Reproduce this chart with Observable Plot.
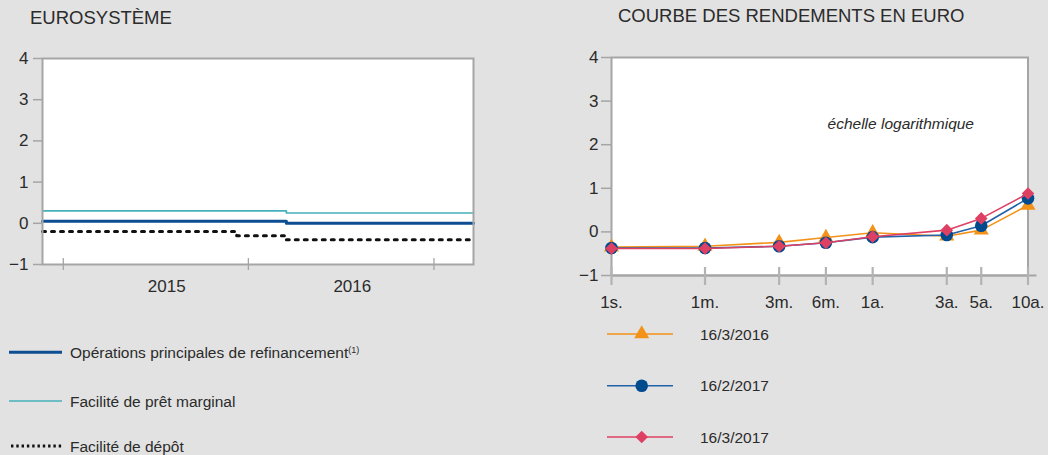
<!DOCTYPE html>
<html><head><meta charset="utf-8">
<script src="https://cdn.jsdelivr.net/npm/d3@7"></script>
<script src="https://cdn.jsdelivr.net/npm/@observablehq/plot@0.6"></script>
<style>
body{margin:0;background:#e2e2e2;font-family:"Liberation Sans",Arial,sans-serif;color:#2b2b2b;}
#wrap{position:relative;width:1048px;height:455px;overflow:hidden;background:#e2e2e2;}
.abs{position:absolute;}
svg{overflow:visible;}
</style></head><body><div id="wrap"></div>
<script>
// ---------- Left chart data (Eurosystem policy rates, %) ----------
const leftTitle = "EUROSYSTÈME";
const mroDates = ["2014-11-21","2016-03-16","2017-03-20"];
const mroRates = [0.05, 0.00, 0.00];
const mlfDates = ["2014-11-21","2016-03-16","2017-03-20"];
const mlfRates = [0.30, 0.25, 0.25];
const dfDates  = ["2014-11-21","2015-12-09","2016-03-16","2017-03-20"];
const dfRates  = [-0.20, -0.30, -0.40, -0.40];
const leftDomain = ["2014-11-21","2017-03-20"];
const yearTickDates = ["2015-01-01","2016-01-01","2017-01-01"];
const yearLabelDates = ["2015-07-24","2016-07-24"];
const yearLabels = ["2015","2016"];
const leftYTicks = [-1, 0, 1, 2, 3, 4];
const leftSeriesNames = ["Opérations principales de refinancement","Facilité de prêt marginal","Facilité de dépôt"];

// ---------- Right chart data (euro yield curve, %) ----------
const rightTitle = "COURBE DES RENDEMENTS EN EURO";
const tenorLabels = ["1s.","1m.","3m.","6m.","1a.","3a.","5a.","10a."];
const tenorYears  = [1/48, 1/12, 0.25, 0.5, 1, 3, 5, 10];
const curveNames  = ["16/3/2016","16/2/2017","16/3/2017"];
const curve20160316 = [-0.35, -0.33, -0.24, -0.13, -0.02, -0.10, 0.04, 0.61];
const curve20170216 = [-0.37, -0.37, -0.33, -0.25, -0.12, -0.07, 0.14, 0.77];
const curve20170316 = [-0.38, -0.38, -0.33, -0.25, -0.11, 0.04, 0.31, 0.88];
const rightYTicks = [-1, 0, 1, 2, 3, 4];
const annotation = "échelle logarithmique";

// ---------- styles ----------
const C = {
  mro: "#0d4e92", mlf: "#46b0bb", df: "#111111",
  orange: "#f39219", blueLine: "#2262a8", blueDot: "#004b8e", red: "#de4063",
  frame: "#a5a5a5", text: "#2b2b2b"
};
const FONT = '"Liberation Sans", Arial, sans-serif';
const wrap = document.getElementById("wrap");
const parse = d3.utcParse("%Y-%m-%d");
const intFmt = d => (d < 0 ? "\u2212" : "") + Math.abs(d);

function place(el, left, top) {
  el.classList.add("abs");
  el.style.left = left + "px";
  el.style.top = top + "px";
  wrap.appendChild(el);
}

// Titles
function addText(txt, left, top, size) {
  const d = document.createElement("div");
  d.textContent = txt;
  d.style.fontSize = size + "px";
  d.style.lineHeight = size + "px";
  d.style.whiteSpace = "nowrap";
  d.style.color = C.text;
  place(d, left, top);
}
addText(leftTitle, 30, 8.5, 18.5);
addText(rightTitle, 618, 7, 18.5);

// ---------- Left chart ----------
const mroData = mroDates.map((d, i) => ({date: parse(d), v: mroRates[i]}));
const mlfData = mlfDates.map((d, i) => ({date: parse(d), v: mlfRates[i]}));
const dfData  = dfDates.map((d, i) => ({date: parse(d), v: dfRates[i]}));
const yearTicks = yearTickDates.map(parse);
const yearLabelPos = yearLabelDates.map(parse);

const left = Plot.plot({
  width: 480, height: 260,
  marginLeft: 42, marginRight: 7, marginTop: 18, marginBottom: 36,
  x: {type: "utc", domain: leftDomain.map(parse), label: null, axis: null},
  y: {domain: [-1, 4], label: null},
  style: {background: "transparent", fontFamily: FONT, fontSize: "17px", color: C.text},
  marks: [
    Plot.frame({fill: "white", stroke: null}),
    Plot.line(mlfData, {x: "date", y: "v", curve: "step-after", stroke: C.mlf, strokeWidth: 1.7}),
    Plot.line(mroData, {x: "date", y: "v", curve: "step-after", stroke: C.mro, strokeWidth: 3}),
    Plot.line(dfData, {x: "date", y: "v", curve: "step-after", stroke: C.df, strokeWidth: 3, strokeDasharray: "3,6"}),
    Plot.frame({stroke: C.frame, strokeWidth: 2}),
    Plot.axisY({ticks: leftYTicks, tickFormat: intFmt, tickSize: 9, tickPadding: 5, stroke: C.frame, strokeWidth: 1.5, fill: C.text, label: null}),
    Plot.ruleX(yearTicks, {x: d => d, y1: () => -1, y2: () => -1, insetTop: -6, insetBottom: -6, stroke: C.frame, strokeWidth: 1.3}),
    Plot.text(yearLabelPos, {x: d => d, text: (d, i) => yearLabels[i], frameAnchor: "bottom", lineAnchor: "top", dy: 15, fill: C.text})
  ]
});
place(left, 0, 40);

// ---------- Right chart ----------
const curves = [curve20160316, curve20170216, curve20170316];
const rows = curves.map((c, s) => tenorYears.map((t, i) => ({tenor: t, v: c[i], s: curveNames[s]})));

const right = Plot.plot({
  width: 488, height: 270,
  marginLeft: 51, marginRight: 20.5, marginTop: 17, marginBottom: 35,
  x: {type: "log", domain: [tenorYears[0], tenorYears[tenorYears.length - 1]], label: null, axis: null},
  y: {domain: [-1, 4], label: null},
  style: {background: "transparent", fontFamily: FONT, fontSize: "17px", color: C.text},
  marks: [
    Plot.frame({fill: "white", stroke: null}),
    Plot.ruleY([-1], {stroke: C.frame, strokeWidth: 2, insetRight: -9}),
    Plot.frame({stroke: C.frame, strokeWidth: 2}),
    Plot.axisY({ticks: rightYTicks, tickFormat: intFmt, tickSize: 10, tickPadding: 3, stroke: C.frame, strokeWidth: 1.5, fill: C.text, label: null}),
    Plot.ruleX(tenorYears, {x: d => d, y1: () => -1, y2: () => -1, insetTop: -8, insetBottom: -10, stroke: "#b3b3b3", strokeWidth: 2.2}),
    Plot.text(tenorYears, {x: d => d, text: (d, i) => tenorLabels[i], frameAnchor: "bottom", lineAnchor: "top", dy: 20.5, fill: C.text}),
    Plot.text([annotation], {frameAnchor: "top-right", text: d => d, textAnchor: "end", dx: -54, dy: 60, fontStyle: "italic", fontSize: 15.5, fill: C.text}),
    Plot.line(rows[0], {x: "tenor", y: "v", stroke: C.orange, strokeWidth: 1.6}),
    Plot.dot(rows[0], {x: "tenor", y: "v", symbol: "triangle", r: 5.6, fill: C.orange, stroke: null}),
    Plot.line(rows[1], {x: "tenor", y: "v", stroke: C.blueLine, strokeWidth: 1.6}),
    Plot.dot(rows[1], {x: "tenor", y: "v", symbol: "circle", r: 6.3, fill: C.blueDot, stroke: null}),
    Plot.line(rows[2], {x: "tenor", y: "v", stroke: C.red, strokeWidth: 1.6}),
    Plot.dot(rows[2], {x: "tenor", y: "v", symbol: "diamond2", r: 5.7, fill: C.red, stroke: null})
  ]
});
place(right, 560, 40);

// ---------- Legends ----------
const NS = "http://www.w3.org/2000/svg";
function svgEl(tag, attrs, parent) {
  const e = document.createElementNS(NS, tag);
  for (const k in attrs) e.setAttribute(k, attrs[k]);
  parent.appendChild(e);
  return e;
}
// Left legend
const lsvg = document.createElementNS(NS, "svg");
lsvg.setAttribute("width", 420); lsvg.setAttribute("height", 135);
lsvg.style.fontFamily = FONT;
place(lsvg, 0, 320);
const lRows = [32.3, 81, 126];
svgEl("line", {x1: 9, x2: 62, y1: lRows[0], y2: lRows[0], stroke: C.mro, "stroke-width": 3}, lsvg);
svgEl("line", {x1: 9, x2: 62, y1: lRows[1], y2: lRows[1], stroke: C.mlf, "stroke-width": 1.4}, lsvg);
svgEl("line", {x1: 11, x2: 64, y1: lRows[2], y2: lRows[2], stroke: C.df, "stroke-width": 3, "stroke-dasharray": "2.4,2.9"}, lsvg);
leftSeriesNames.forEach((n, i) => {
  const t = svgEl("text", {x: 70, y: lRows[i] + 5.6, "font-size": 15.5, fill: C.text}, lsvg);
  t.textContent = n;
  if (i === 0) {
    const s = svgEl("tspan", {"font-size": 9, dy: -5}, t);
    s.textContent = "(1)";
  }
});
// Right legend
const rsvg = document.createElementNS(NS, "svg");
rsvg.setAttribute("width", 300); rsvg.setAttribute("height", 145);
rsvg.style.fontFamily = FONT;
place(rsvg, 560, 310);
const rRows = [24, 75.7, 127];
const lineCols = [C.orange, C.blueLine, C.red];
const dotCols = [C.orange, C.blueDot, C.red];
const syms = [[d3.symbolTriangle, 5.6], [d3.symbolCircle, 6.3], [d3.symbolDiamond2, 5.7]];
curveNames.forEach((n, i) => {
  svgEl("line", {x1: 47, x2: 113, y1: rRows[i], y2: rRows[i], stroke: lineCols[i], "stroke-width": 1.6}, rsvg);
  const [sym, r] = syms[i];
  svgEl("path", {d: d3.symbol(sym, Math.PI * r * r)(), transform: `translate(81.7,${rRows[i]})`, fill: dotCols[i]}, rsvg);
  const t = svgEl("text", {x: 140, y: rRows[i] + 5.6, "font-size": 15.5, fill: C.text}, rsvg);
  t.textContent = n;
});
</script>
</body></html>
